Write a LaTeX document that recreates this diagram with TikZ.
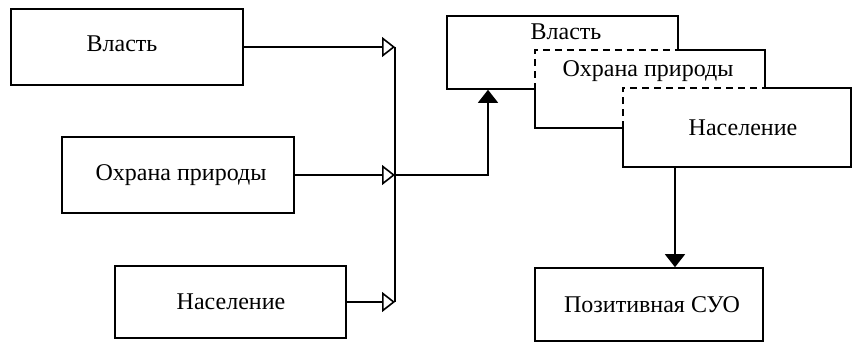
\documentclass[tikz,border=0pt]{standalone}
\usepackage{fontspec}
\setmainfont{Liberation Serif}
\usetikzlibrary{arrows.meta}
\tikzset{
  box/.style={draw, line width=1.6pt, fill=white, inner sep=0pt},
  lbl/.style={inner sep=0pt, font=\fontsize{24}{28}\selectfont},
  conn/.style={line width=1.5pt},
  openhead/.style={-{Triangle[open, length=13pt 0, width=20pt 0, line width=1.6pt]}},
  fullhead/.style={-{Triangle[length=13pt 0, width=20pt 0]}}
}
\begin{document}
\begin{tikzpicture}[x=1pt,y=-1pt]
\useasboundingbox (0,0) rectangle (852,342);
% left boxes
\node[box, minimum width=232pt, minimum height=76pt] (b1) at (127,47) {};
\node[lbl] (t1) at (122,44) {Власть};
\node[box, minimum width=232pt, minimum height=76pt] (b2) at (178,175) {};
\node[lbl] (t2) at (181,175) {Охрана природы};
\node[box, minimum width=231pt, minimum height=72pt] (b3) at (230.5,302) {};
\node[lbl] (t3) at (231,302) {Население};
% bus
\coordinate (bt) at (395,47);
\coordinate (bm) at (395,175);
\coordinate (bb) at (395,302);
\draw[conn] (bt) -- (bb);
\draw[conn, openhead] (b1.east) -- (bt);
\draw[conn, openhead] (b2.east) -- (bm);
\draw[conn, openhead] (b3.east) -- (bb);
% right stacked boxes
\node[box, minimum width=231pt, minimum height=73pt] (vl) at (562.5,52.5) {};
\node[lbl] (t4) at (566,32) {Власть};
\node[fill=white, inner sep=0pt, minimum width=230pt, minimum height=78pt] (oh) at (650,89) {};
\draw[conn, dash pattern=on 7pt off 5pt] (oh.west |- vl.south) -- (oh.north west) -- (oh.north -| vl.east);
\draw[conn, line width=1.6pt] (oh.north -| vl.east) -- (oh.north east) -- (oh.south east) -- (oh.south west) -- (oh.west |- vl.south);
\node[lbl] (t5) at (648,71) {Охрана природы};
\node[fill=white, inner sep=0pt, minimum width=228pt, minimum height=79pt] (nas) at (737,127.5) {};
\draw[conn, dash pattern=on 7pt off 5pt] (nas.west |- oh.south) -- (nas.north west) -- (nas.north -| oh.east);
\draw[conn, line width=1.6pt] (nas.north -| oh.east) -- (nas.north east) -- (nas.south east) -- (nas.south west) -- (nas.west |- oh.south);
\node[lbl] (t6) at (743,128) {Население};
% output box
\node[box, minimum width=228pt, minimum height=73pt] (pos) at (649,304.5) {};
\node[lbl] (t7) at (652,305) {Позитивная СУО};
% connectors to the right
\coordinate (turn) at (488,175);
\draw[conn, fullhead] (bm) -- (turn) -- (turn |- vl.south);
\coordinate (drop) at (675,167);
\draw[conn, fullhead] (drop) -- (drop |- pos.north);
\end{tikzpicture}
\end{document}
